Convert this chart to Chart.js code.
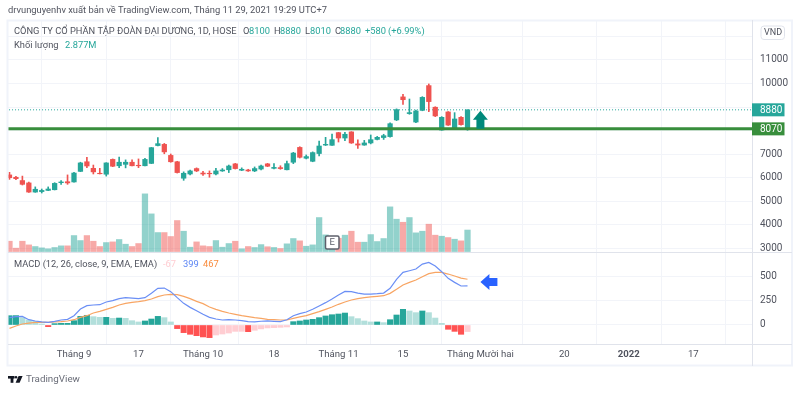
<!DOCTYPE html>
<html>
<head>
<meta charset="utf-8">
<style>
  html, body { margin: 0; padding: 0; background: #fff; }
  canvas { display: block; }
</style>
<script src="https://cdn.jsdelivr.net/npm/chart.js@4"></script>
</head>
<body>
<canvas id="chart" width="800" height="393"></canvas>
<script>
// candle values (one entry per trading day)
const open = [6110,6010,5870,5770,5380,5400,5450,5480,5780,5820,5810,6260,6670,6390,6180,6140,6770,6500,6560,6650,6520,6500,6600,7360,7410,6940,6670,5970,6150,6380,6190,6180,6150,6280,6330,6580,6310,6320,6280,6360,6580,6390,6420,6330,6650,7280,6820,6690,7020,7380,7370,7910,7680,7940,7430,7380,7470,7620,7700,7740,8450,9430,8720,8360,8860,9910,8990,8020,8790,8060,8560,8100];
const high = [6220,6050,6060,5800,5600,5510,5600,5780,5870,6110,6220,6650,6860,6530,6390,6630,6790,6870,6750,6750,6790,6820,7280,7700,7450,7000,6690,6240,6320,6410,6260,6280,6390,6380,6530,6600,6410,6350,6450,6530,6600,6590,6500,6700,7070,7310,6960,7090,7550,7710,7850,7920,7920,7950,7600,7580,7810,7750,7840,8330,8920,9540,9340,8870,9440,9980,9010,8590,8800,8760,8590,8880];
const low = [5920,5910,5680,5370,5370,5340,5440,5470,5710,5710,5800,6250,6420,6150,6150,6060,6460,6420,6410,6490,6420,6490,6590,7340,7010,6650,6190,5880,6110,6250,6090,6010,6110,6260,6210,6360,6290,6260,6250,6320,6460,6360,6350,6320,6590,6830,6790,6670,6920,7360,7360,7510,7570,7450,7240,7370,7430,7600,7620,7720,8420,9110,8690,8330,8840,8800,8590,8010,8220,8050,8230,8010];
const close = [5990,5950,5710,5380,5500,5450,5510,5750,5810,5770,6190,6620,6490,6240,6160,6620,6480,6650,6650,6500,6500,6770,7270,7440,7090,6670,6210,6180,6280,6280,6150,6160,6280,6320,6490,6380,6350,6280,6380,6490,6480,6430,6380,6590,7040,6860,6890,7060,7340,7410,7610,7680,7840,7470,7380,7470,7610,7710,7780,8290,8890,9310,8760,8830,9410,9230,8620,8560,8230,8490,8250,8880];
// volume in millions
const volume = [1.38,0.45,1.38,0.89,0.67,0.49,0.36,0.54,0.76,0.76,2.14,1.47,2.14,1.38,0.67,1.2,1.29,1.61,0.98,0.67,1.07,7.72,5.04,2.54,2.54,2.01,4.15,2.72,0.58,1.29,0.76,0.67,1.47,0.58,1.07,1.38,0.36,0.67,0.54,0.93,0.64,0.54,0.4,1.03,1.74,1.43,0.71,0.89,4.55,2.23,1.5,1.78,2.19,2.72,1.25,1.25,2.27,1.34,1.74,5.98,4.33,3.92,4.55,2.5,2.72,3.66,2.19,2.05,1.87,1.65,1.43,2.877];
// MACD pane
const histogram = [95,96,75,51,37,10,-17,14,17,17,44,88,99,85,78,78,68,71,68,44,31,41,61,88,75,31,-37,-78,-95,-109,-122,-129,-102,-92,-82,-65,-65,-68,-54,-40,-30,-27,-24,-20,34,41,51,58,75,92,105,112,122,85,65,41,31,31,24,54,102,160,143,126,143,126,71,17,-44,-65,-95,-67];
const macdLine = [75,85,88,54,41,31,27,37,51,58,95,163,197,204,207,235,248,269,279,275,269,279,323,374,377,340,279,221,180,146,109,78,61,51,54,51,44,34,31,38,41,37,34,54,95,116,133,160,194,228,265,306,343,340,326,316,316,320,326,374,466,537,554,571,622,639,602,544,476,435,398,399];
const signalLine = [-34,-10,10,20,27,27,27,31,34,41,54,78,95,122,139,160,180,204,221,231,238,248,265,289,306,313,309,292,269,241,218,184,160,139,122,109,95,85,75,68,58,54,51,51,68,82,95,116,136,160,184,211,235,255,269,279,286,292,299,323,364,408,435,459,493,524,537,537,520,500,479,467];

// axes
const timeTickIndex = [10,20,30,41,51,61,73,86,96,106];
const timeTickLabels = ["Tháng 9","17","Tháng 10","18","Tháng 11","15","Tháng Mười hai","20","2022","17"];
const priceTicks = [3000,4000,5000,6000,7000,8000,9000,10000,11000,12000];
const priceTicksHidden = [8000,9000,12000];
const macdTicks = [0,250,500];

// horizontal levels
const lastPrice = 8880;
const supportPrice = 8070;

const UP = "#26a69a";
const DOWN = "#ef5350";
const GRID = "#f2f4f9";
const BORDER = "#e0e3eb";
const TEXT = "#50535e";
const FONT = "Roboto, sans-serif";

const days = close.map((_, i) => i);
const isUp = days.map((i) => close[i] >= open[i]);
const histColors = histogram.map((v, i) => {
  const rising = i === 0 || v >= histogram[i - 1];
  if (v >= 0) return rising ? "#26a69a" : "#b2dfdb";
  return rising ? "#ffcdd2" : "#ff5252";
});

function drawText(ctx, runs, y) {
  runs.forEach(([text, x, color]) => {
    ctx.fillStyle = color;
    ctx.fillText(text, x, y);
  });
}

function drawTag(ctx, y, text, color) {
  ctx.fillStyle = color;
  ctx.fillRect(752, y - 6.5, 32.5, 13);
  ctx.fillStyle = "#fff";
  ctx.font = `10px ${FONT}`;
  ctx.fillText(text, 760, y + 0.5);
}

const overlay = {
  id: "overlay",
  afterDraw(chart) {
    const { ctx, scales } = chart;
    const xScale = scales.x;
    const yPrice = scales.yPrice;
    const yMacd = scales.yMacd;
    ctx.save();
    ctx.textBaseline = "middle";
    ctx.textAlign = "left";

    // outer frame and pane separators
    ctx.strokeStyle = "#f0f3fa";
    ctx.lineWidth = 2;
    ctx.strokeRect(7.5, 20.5, 784.5, 345);
    ctx.strokeStyle = BORDER;
    ctx.lineWidth = 1;
    ctx.beginPath();
    ctx.moveTo(752.5, 20); ctx.lineTo(752.5, 366);
    ctx.moveTo(8, 252.5); ctx.lineTo(792, 252.5);
    ctx.moveTo(8, 344.5); ctx.lineTo(792, 344.5);
    ctx.stroke();

    // publish line
    ctx.font = `9.35px ${FONT}`;
    drawText(ctx, [["drvunguyenhv xuất bản về TradingView.com, Tháng 11 29, 2021 19:29 UTC+7", 8, TEXT]], 11);

    // legend rows
    ctx.font = `9.3px ${FONT}`;
    drawText(ctx, [
      ["CÔNG TY CỔ PHẦN TẬP ĐOÀN ĐẠI DƯƠNG, 1D, HOSE", 14, TEXT],
      ["O", 243, TEXT], ["8100", 249, UP],
      ["H", 274, TEXT], ["8880", 280, UP],
      ["L", 305, TEXT], ["8010", 310, UP],
      ["C", 335, TEXT], ["8880", 340, UP],
      ["+580", 365, UP], ["(+6.99%)", 388, UP],
    ], 32);
    drawText(ctx, [["Khối lượng", 14, TEXT], ["2.877M", 65, UP]], 46);
    drawText(ctx, [
      ["MACD (12, 26, close, 9, EMA, EMA)", 14, TEXT],
      ["-67", 163, "#ffcdd2"], ["399", 183, "#5b85f5"], ["467", 203, "#f98b3c"],
    ], 265);

    // price tags on the axis
    drawTag(ctx, yPrice.getPixelForValue(lastPrice), String(lastPrice), UP);
    drawTag(ctx, yPrice.getPixelForValue(supportPrice), String(supportPrice), "#388e3c");

    // VND button
    ctx.strokeStyle = BORDER;
    ctx.beginPath();
    ctx.roundRect(761, 26, 23.5, 13.5, 3);
    ctx.stroke();
    ctx.font = `9px ${FONT}`;
    ctx.fillStyle = TEXT;
    ctx.fillText("VND", 764, 33);

    // up arrow standing on the support line
    const ax = xScale.getPixelForValue(73);
    const aBase = yPrice.getPixelForValue(supportPrice);
    ctx.fillStyle = "#00897b";
    ctx.beginPath();
    ctx.moveTo(ax, aBase - 18);
    ctx.lineTo(ax + 7.5, aBase - 9);
    ctx.lineTo(ax + 4, aBase - 9);
    ctx.lineTo(ax + 4, aBase);
    ctx.lineTo(ax - 4, aBase);
    ctx.lineTo(ax - 4, aBase - 9);
    ctx.lineTo(ax - 7.5, aBase - 9);
    ctx.closePath();
    ctx.fill();

    // blue arrow next to the MACD lines
    const bx = xScale.getPixelForValue(73);
    const by = yMacd.getPixelForValue(440);
    ctx.fillStyle = "#2962ff";
    ctx.beginPath();
    ctx.moveTo(bx, by);
    ctx.lineTo(bx + 9, by - 8);
    ctx.lineTo(bx + 9, by - 4);
    ctx.lineTo(bx + 17, by - 4);
    ctx.lineTo(bx + 17, by + 4);
    ctx.lineTo(bx + 9, by + 4);
    ctx.lineTo(bx + 9, by + 8);
    ctx.closePath();
    ctx.fill();

    // earnings marker
    ctx.fillStyle = "#fff";
    ctx.strokeStyle = "#5d606b";
    ctx.lineWidth = 1.5;
    ctx.beginPath();
    ctx.roundRect(325.5, 236, 13.5, 13, 1.5);
    ctx.fill();
    ctx.stroke();
    ctx.font = `9.5px ${FONT}`;
    ctx.fillStyle = "#5d606b";
    ctx.fillText("E", 329.5, 243);

    // TradingView logo
    ctx.fillStyle = "#131722";
    ctx.fillRect(8, 376, 6.5, 2.6);
    ctx.fillRect(10.6, 376, 2.8, 6.8);
    ctx.beginPath();
    ctx.arc(16, 377.3, 1.3, 0, Math.PI * 2);
    ctx.fill();
    ctx.beginPath();
    ctx.moveTo(18.6, 376); ctx.lineTo(22.6, 376); ctx.lineTo(19.6, 382.8); ctx.lineTo(15.6, 382.8);
    ctx.closePath();
    ctx.fill();
    ctx.font = `9.8px ${FONT}`;
    ctx.fillStyle = "#6a6d78";
    ctx.fillText("TradingView", 26, 379.5);
    ctx.restore();
  },
};

new Chart(document.getElementById("chart"), {
  type: "bar",
  plugins: [overlay],
  data: {
    datasets: [
      {
        type: "line", order: 0, xAxisID: "x", yAxisID: "yPrice",
        data: [{ x: -1, y: supportPrice }, { x: 116, y: supportPrice }],
        borderColor: "#388e3c", borderWidth: 3, pointRadius: 0,
      },
      {
        type: "line", order: 1, xAxisID: "x", yAxisID: "yMacd",
        data: days.map((i) => ({ x: i, y: macdLine[i] })),
        borderColor: "#6b8ff5", borderWidth: 1.2, pointRadius: 0, tension: 0,
      },
      {
        type: "line", order: 2, xAxisID: "x", yAxisID: "yMacd",
        data: days.map((i) => ({ x: i, y: signalLine[i] })),
        borderColor: "#f8a563", borderWidth: 1.2, pointRadius: 0, tension: 0,
      },
      {
        order: 3, xAxisID: "x", yAxisID: "yMacd", grouped: false, barThickness: 5.4,
        data: days.map((i) => ({ x: i, y: histogram[i] })),
        backgroundColor: histColors,
      },
      {
        order: 4, xAxisID: "x", yAxisID: "yPrice", grouped: false, barThickness: 4.6,
        data: days.map((i) => ({ x: i, y: [open[i], close[i]] })),
        backgroundColor: days.map((i) => (isUp[i] ? UP : DOWN)),
      },
      {
        order: 5, xAxisID: "x", yAxisID: "yPrice", grouped: false, barThickness: 1,
        data: days.map((i) => ({ x: i, y: [low[i], high[i]] })),
        backgroundColor: days.map((i) => (isUp[i] ? UP : DOWN)),
      },
      {
        type: "line", order: 6, xAxisID: "x", yAxisID: "yPrice",
        data: [{ x: -1, y: lastPrice }, { x: 116, y: lastPrice }],
        borderColor: UP, borderWidth: 1, borderDash: [1, 2], pointRadius: 0,
      },
      {
        order: 7, xAxisID: "x", yAxisID: "yVol", grouped: false, barThickness: 5.6,
        data: days.map((i) => ({ x: i, y: volume[i] })),
        backgroundColor: days.map((i) => (isUp[i] ? "rgba(38,166,154,0.5)" : "rgba(239,83,80,0.5)")),
      },
    ],
  },
  options: {
    responsive: false,
    animation: false,
    events: [],
    layout: { padding: { left: 8, top: 20, right: 8, bottom: 28 } },
    plugins: { legend: { display: false }, tooltip: { enabled: false } },
    scales: {
      x: {
        type: "linear",
        offset: false,
        min: -0.23,
        max: 115.1,
        afterBuildTicks: (s) => { s.ticks = timeTickIndex.map((v) => ({ value: v })); },
        afterFit: (s) => { s.height = 21; },
        grid: { color: GRID, drawTicks: false },
        border: { display: false },
        ticks: {
          autoSkip: false,
          maxRotation: 0,
          padding: 5,
          color: TEXT,
          font: (c) => ({ family: FONT, size: 9.6, weight: c.index === 8 ? "bold" : "normal" }),
          callback: (v) => timeTickLabels[timeTickIndex.indexOf(v)],
        },
      },
      yPrice: {
        type: "linear",
        position: "right",
        stack: "panes",
        stackWeight: 232,
        min: 2830,
        max: 12702,
        afterBuildTicks: (s) => { s.ticks = priceTicks.map((v) => ({ value: v })); },
        afterFit: (s) => { s.width = 40; },
        grid: { color: GRID, drawTicks: false },
        border: { display: false },
        ticks: {
          autoSkip: false,
          padding: 8,
          color: TEXT,
          font: { family: FONT, size: 10 },
          callback: (v) => (priceTicksHidden.includes(v) ? "" : String(v)),
        },
      },
      yMacd: {
        type: "linear",
        position: "right",
        stack: "panes",
        stackWeight: 92,
        min: -194,
        max: 745,
        afterBuildTicks: (s) => { s.ticks = macdTicks.map((v) => ({ value: v })); },
        afterFit: (s) => { s.width = 40; },
        grid: { color: GRID, drawTicks: false },
        border: { display: false },
        ticks: {
          autoSkip: false,
          padding: 8,
          color: TEXT,
          font: { family: FONT, size: 10 },
          callback: (v) => String(v),
        },
      },
      yVol: {
        type: "linear",
        display: false,
        position: "right",
        min: -12.38,
        max: 31,
      },
    },
  },
});
</script>
</body>
</html>
